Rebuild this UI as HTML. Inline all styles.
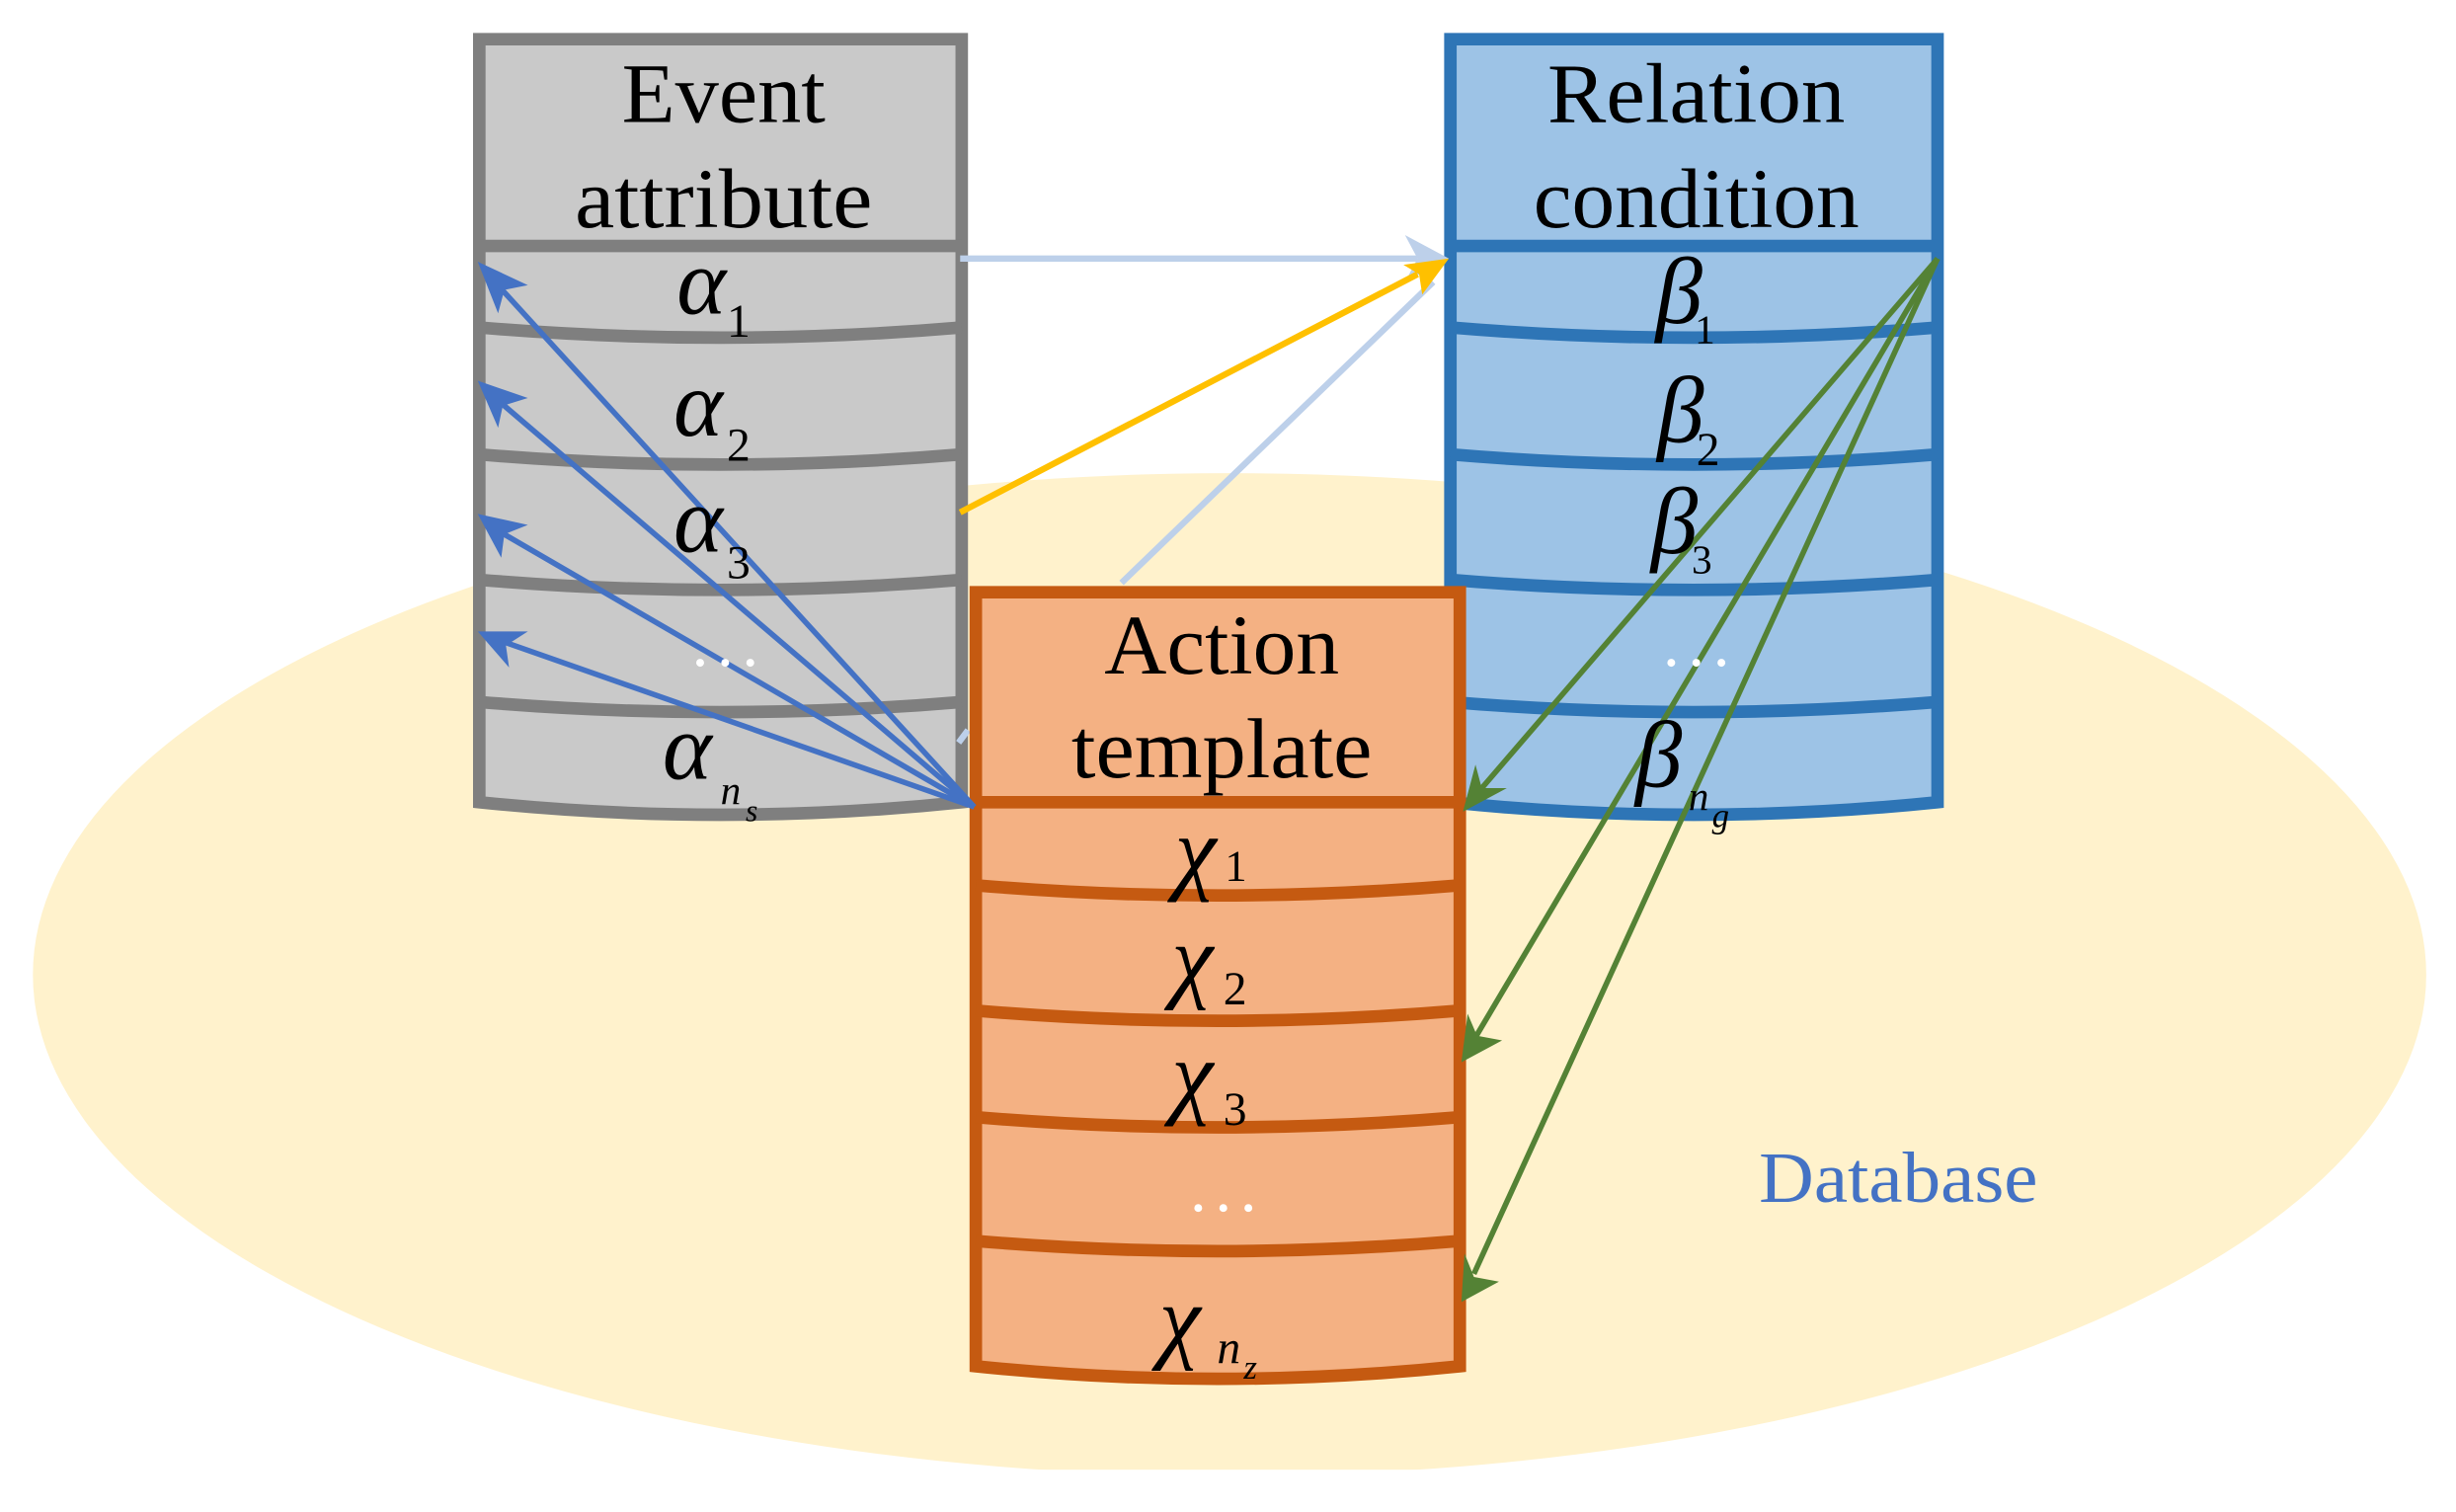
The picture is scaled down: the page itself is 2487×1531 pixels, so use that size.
<!DOCTYPE html>
<html><head><meta charset="utf-8"><style>
html,body{margin:0;padding:0;background:#fff}
svg{display:block}
text{font-family:"Liberation Serif","DejaVu Serif",serif}
</style></head><body>
<svg width="2487" height="1531" viewBox="0 0 1568 965" preserveAspectRatio="none" xmlns="http://www.w3.org/2000/svg">
<ellipse cx="785" cy="622" rx="764" ry="320" fill="#fff2cc"/>
<rect x="0" y="938" width="1568" height="30" fill="#fff"/>

<g stroke="#7f7f7f" stroke-width="8" fill="#c9c9c9">
<path d="M306,25 H614 V512 Q460,528 306,512 Z"/>
<line x1="306" y1="157" x2="614" y2="157"/>
<g fill="none">
<path d="M306,209 Q460,222 614,209"/>
<path d="M306,290 Q460,303 614,290"/>
<path d="M306,370 Q460,383 614,370"/>
<path d="M306,448 Q460,461 614,448"/>
</g>
</g>
<g stroke="#2e75b6" stroke-width="8" fill="#9dc3e6">
<path d="M926,25 H1237 V512 Q1081,528 926,512 Z"/>
<line x1="926" y1="157" x2="1237" y2="157"/>
<g fill="none">
<path d="M926,209 Q1081,222 1237,209"/>
<path d="M926,290 Q1081,303 1237,290"/>
<path d="M926,370 Q1081,383 1237,370"/>
<path d="M926,448 Q1081,461 1237,448"/>
</g>
</g>

<g stroke="#bdd0ea" stroke-width="4" fill="#bdd0ea">
<line x1="613" y1="165" x2="905" y2="165"/>
<path d="M925,165 L897,150 L905,165 L897,180 Z" stroke="none"/>
<line x1="716" y1="372" x2="915" y2="180"/>
<line x1="612" y1="474" x2="618" y2="466"/>
</g>
<line x1="613" y1="327" x2="905" y2="175" stroke="#ffc000" stroke-width="4"/>
<path d="M925,165 L896,169 L906,175 L908,188 Z" fill="#ffc000"/>

<g stroke="#c55a11" stroke-width="8" fill="#f4b183">
<path d="M623,378 H932 V872 Q777,888 623,872 Z"/>
<line x1="623" y1="512" x2="932" y2="512"/>
<g fill="none">
<path d="M623,565 Q777,578 932,565"/>
<path d="M623,645 Q777,658 932,645"/>
<path d="M623,713 Q777,726 932,713"/>
<path d="M623,792 Q777,805 932,792"/>
</g>
</g>

<g stroke="#4472c4" stroke-width="3.5" fill="none">
<line x1="622" y1="515" x2="316" y2="180"/>
<line x1="622" y1="515" x2="315" y2="253"/>
<line x1="622" y1="515" x2="315" y2="337"/>
<line x1="622" y1="515" x2="317" y2="408"/>
</g>
<g fill="#4472c4">
<path d="M305,167 L337,182 L322,185 L318,200 Z"/>
<path d="M305,243 L337,254 L321,259 L318,273 Z"/>
<path d="M305,328 L337,335 L322,341 L320,356 Z"/>
<path d="M305,403 L337,403 L323,412 L325,426 Z"/>
</g>

<g stroke="#548235" stroke-width="3.5" fill="none">
<line x1="1237" y1="165" x2="946" y2="503"/>
<line x1="1237" y1="165" x2="942" y2="662"/>
<line x1="1237" y1="165" x2="941" y2="813"/>
</g>
<g fill="#548235">
<path d="M934,518 L942,488 L946,503 L962,503 Z"/>
<path d="M933,678 L937,647 L943,661 L959,664 Z"/>
<path d="M933,831 L935,800 L941,815 L957,818 Z"/>
</g>

<g font-size="54" text-anchor="middle" fill="#000" lengthAdjust="spacingAndGlyphs">
<text x="462" y="78" textLength="130" lengthAdjust="spacingAndGlyphs">Event</text>
<text x="462" y="145" textLength="190" lengthAdjust="spacingAndGlyphs">attribute</text>
<text x="1083" y="78" textLength="190" lengthAdjust="spacingAndGlyphs">Relation</text>
<text x="1083" y="145" textLength="208" lengthAdjust="spacingAndGlyphs">condition</text>
<text x="780" y="430" textLength="150" lengthAdjust="spacingAndGlyphs">Action</text>
<text x="780" y="496" textLength="192" lengthAdjust="spacingAndGlyphs">template</text>
</g>
<g font-size="60" font-style="italic" fill="#000">
<text x="432" y="200">α</text><text x="464" y="215" font-size="30" font-style="normal">1</text>
<text x="430" y="278">α</text><text x="464" y="294" font-size="30" font-style="normal">2</text>
<text x="430" y="352">α</text><text x="464" y="369" font-size="30" font-style="normal">3</text>
<text x="423" y="497">α</text><text x="460" y="513" font-size="26">n</text><text x="476" y="524" font-size="20">s</text>
<text x="1057" y="206">β</text><text x="1082" y="219" font-size="26" font-style="normal">1</text>
<text x="1058" y="282">β</text><text x="1083" y="297" font-size="30" font-style="normal">2</text>
<text x="1054" y="353">β</text><text x="1080" y="366" font-size="26" font-style="normal">3</text>
<text x="1044" y="502">β</text><text x="1078" y="517" font-size="26">n</text><text x="1093" y="528" font-size="22">g</text>
<text x="750" y="563">χ</text><text x="782" y="562" font-size="28" font-style="normal">1</text>
<text x="748" y="632">χ</text><text x="781" y="641" font-size="30" font-style="normal">2</text>
<text x="748" y="706">χ</text><text x="781" y="718" font-size="30" font-style="normal">3</text>
<text x="740" y="862">χ</text><text x="777" y="870" font-size="30">n</text><text x="794" y="880" font-size="22">z</text>
</g>
<g fill="#fff">
<circle cx="447" cy="423" r="2.5"/><circle cx="463" cy="423" r="2.5"/><circle cx="479" cy="423" r="2.5"/>
<circle cx="1067" cy="423" r="2.5"/><circle cx="1083" cy="423" r="2.5"/><circle cx="1099" cy="423" r="2.5"/>
<circle cx="765" cy="771" r="2.5"/><circle cx="781" cy="771" r="2.5"/><circle cx="797" cy="771" r="2.5"/>
</g>
<text x="1212" y="767" font-size="46" fill="#4472c4" text-anchor="middle" textLength="178" lengthAdjust="spacingAndGlyphs">Database</text>
</svg>
</body></html>
